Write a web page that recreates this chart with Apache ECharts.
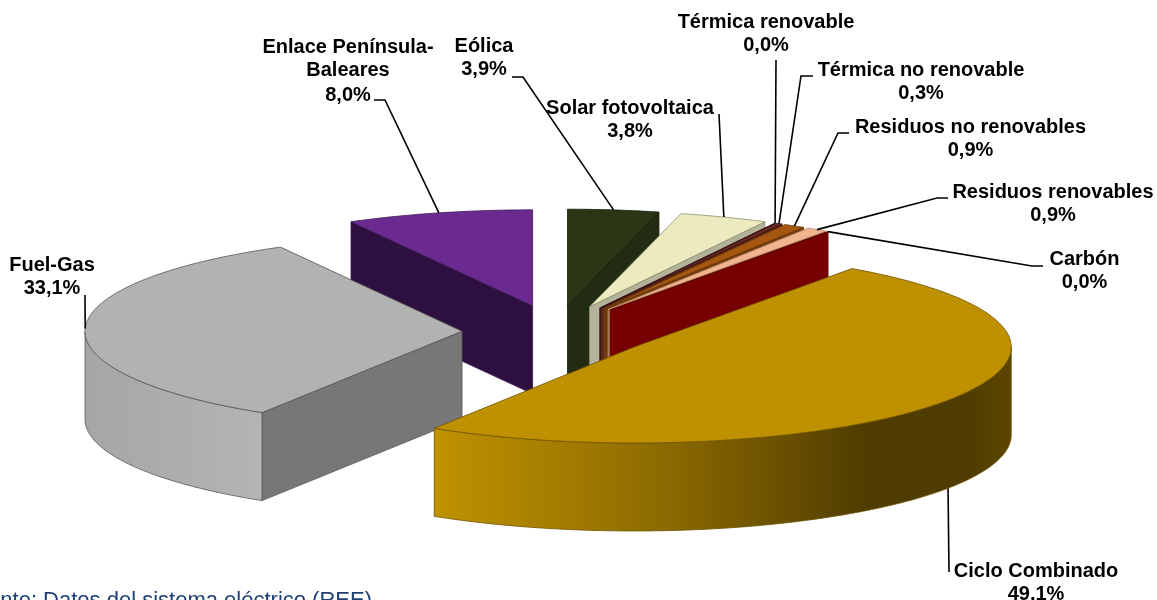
<!DOCTYPE html>
<html><head><meta charset="utf-8">
<style>html,body{margin:0;padding:0;background:#fff}#c{width:1157px;height:600px}</style>
<script src="https://cdn.jsdelivr.net/npm/echarts@6/dist/echarts.min.js"></script>
</head><body><div id="c"></div>
<script>
// ---- data ----
const categories = ['Eólica','Solar fotovoltaica','Térmica renovable','Térmica no renovable','Residuos no renovables','Residuos renovables','Carbón','Ciclo Combinado','Fuel-Gas','Enlace Península-\nBaleares'];
const values = [3.9,3.8,0.0,0.3,0.9,0.9,0.0,49.1,33.1,8.0];
const percentLabels = ['3,9%','3,8%','0,0%','0,3%','0,9%','0,9%','0,0%','49,1%','33,1%','8,0%'];
// ---- styles ----
const topColors  = ['#2b3616','#ebebbf','#5c2a2a','#6a2a22','#a5560f','#f0b48e','#7a0000','#bf9000','#b2b2b2','#6b2a90'];
const wallColors = ['#222c12','#b3b39c','#55241e','#5a2418','#6e3a10','#a8744f','#760000','#bf9000','#777777','#2d1040'];
const edgeColors = ['#141a08','#8d8d70','#3a1515','#3a1515','#6b3a08','#b98a66','#5a0000','#6e5300','#555555','#3d1858'];
const paintOrder = [9,0,1,2,3,4,5,6,8,7];
// ---- layout ----
const pie = {cx:556, cy:332, rx:377, ry:96, depth:88, explodeX:94, explodeY:27};
const labelCenters = [[484,46],[630,108],[766,22],[921,70],[970.5,127],[1053,192],[1084.5,259],[1036,571],[52,265],[348,47]];
const labelGap = 23.6;
const leaderBends = [
  [[523,77],[512,77]], [[719,114]], [[776,60]], [[801,76],[813,76]], [[838,133],[849,133]],
  [[937,198],[948,198]], [[1032,266],[1043,266]], [[949,572]], [[85,295]], [[385,100],[374,100]]
];
// ---- geometry from values ----
const total = values.reduce((a,b)=>a+b,0);
const slices = []; let acc = 0;
values.forEach(v=>{ const a0=acc/total*Math.PI*2; acc+=v; const a1=acc/total*Math.PI*2; const m=(a0+a1)/2;
  slices.push({a0,a1,m,x:pie.cx+pie.explodeX*Math.sin(m),y:pie.cy-pie.explodeY*Math.cos(m)}); });
const rim=(s,a,dz)=>[s.x+pie.rx*Math.sin(a), s.y-pie.ry*Math.cos(a)+(dz||0)];
function arc(s,a0,a1,dz){ const n=Math.max(1,Math.ceil((a1-a0)/0.01)), p=[]; for(let i=0;i<=n;i++) p.push(rim(s,a0+(a1-a0)*i/n,dz)); return p; }
const LG=echarts.graphic.LinearGradient;
const wallFill={
  7:new LG(0,0,1,0,[{offset:0,color:'#bf9200'},{offset:.2,color:'#a67e00'},{offset:.4,color:'#8c6a00'},{offset:.6,color:'#6a5000'},{offset:.75,color:'#4f3c00'},{offset:.92,color:'#4f3c00'},{offset:1,color:'#5c4600'}]),
  8:new LG(0,0,1,0,[{offset:0,color:'#a6a6a6'},{offset:1,color:'#b4b4b4'}])
};
function renderSlice(params,api){
  const i=api.value(0), s=slices[i], kids=[], d=pie.depth, c=[s.x,s.y], lw=0.8;
  const st=(fill)=>({fill,stroke:edgeColors[i],lineWidth:lw,lineJoin:'round'});
  const radial=(a,fill)=>kids.push({type:'polygon',shape:{points:[c,rim(s,a),rim(s,a,d),[s.x,s.y+d]]},style:st(fill)});
  if(Math.sin(s.a1)>0) radial(s.a1,wallColors[i]);
  if(Math.sin(s.a0)<0) radial(s.a0,wallColors[i]);
  const f0=Math.max(s.a0,Math.PI/2), f1=Math.min(s.a1,Math.PI*1.5);
  if(f1>f0){ const top=arc(s,f0,f1,0), bot=arc(s,f0,f1,d).reverse();
    kids.push({type:'polygon',shape:{points:top.concat(bot)},style:st(wallFill[i]||wallColors[i])}); }
  if(s.a1>s.a0) kids.push({type:'polygon',shape:{points:[c].concat(arc(s,s.a0,s.a1,0))},style:st(topColors[i])});
  else kids.push({type:'line',shape:{x1:s.x,y1:s.y,x2:rim(s,s.a0)[0],y2:rim(s,s.a0)[1]},style:{stroke:edgeColors[i],lineWidth:lw}});
  return {type:'group',children:kids};
}
function renderLabel(params,api){
  const i=api.value(0), s=slices[i], kids=[];
  const front=Math.cos(s.m)<0 && Math.abs(Math.sin(s.m))<0.9;
  const start=rim(s,s.m,front?pie.depth:0);
  kids.push({type:'polyline',shape:{points:[start].concat(leaderBends[i])},style:{fill:null,stroke:'#000',lineWidth:1.6}});
  const lines=(categories[i]+'\n'+percentLabels[i]).split('\n'), lc=labelCenters[i];
  lines.forEach((t,k)=>kids.push({type:'text',style:{text:t,x:lc[0],y:lc[1]+k*labelGap+(k==2?1:0),textAlign:'center',textVerticalAlign:'middle',fill:'#000',font:'bold 20px "Liberation Sans", Arial, sans-serif'}}));
  return {type:'group',children:kids};
}
const chart=echarts.init(document.getElementById('c'),null,{width:1157,height:600});
chart.setOption({
  animation:false, backgroundColor:'#ffffff',
  series:[
    {type:'custom',coordinateSystem:'none',renderItem:renderSlice,silent:true,z:2,clip:false,data:paintOrder.map(i=>[i,values[i]])},
    {type:'custom',coordinateSystem:'none',renderItem:renderLabel,silent:true,z:3,clip:false,data:values.map((v,i)=>[i,v])}
  ],
  graphic:[{type:'text',z:4,style:{text:'Fuente: Datos del sistema eléctrico (REE)',x:372,y:612,textAlign:'right',textVerticalAlign:'bottom',fill:'#1f3f73',font:'22px "Liberation Sans", Arial, sans-serif'}}]
});
</script></body></html>
